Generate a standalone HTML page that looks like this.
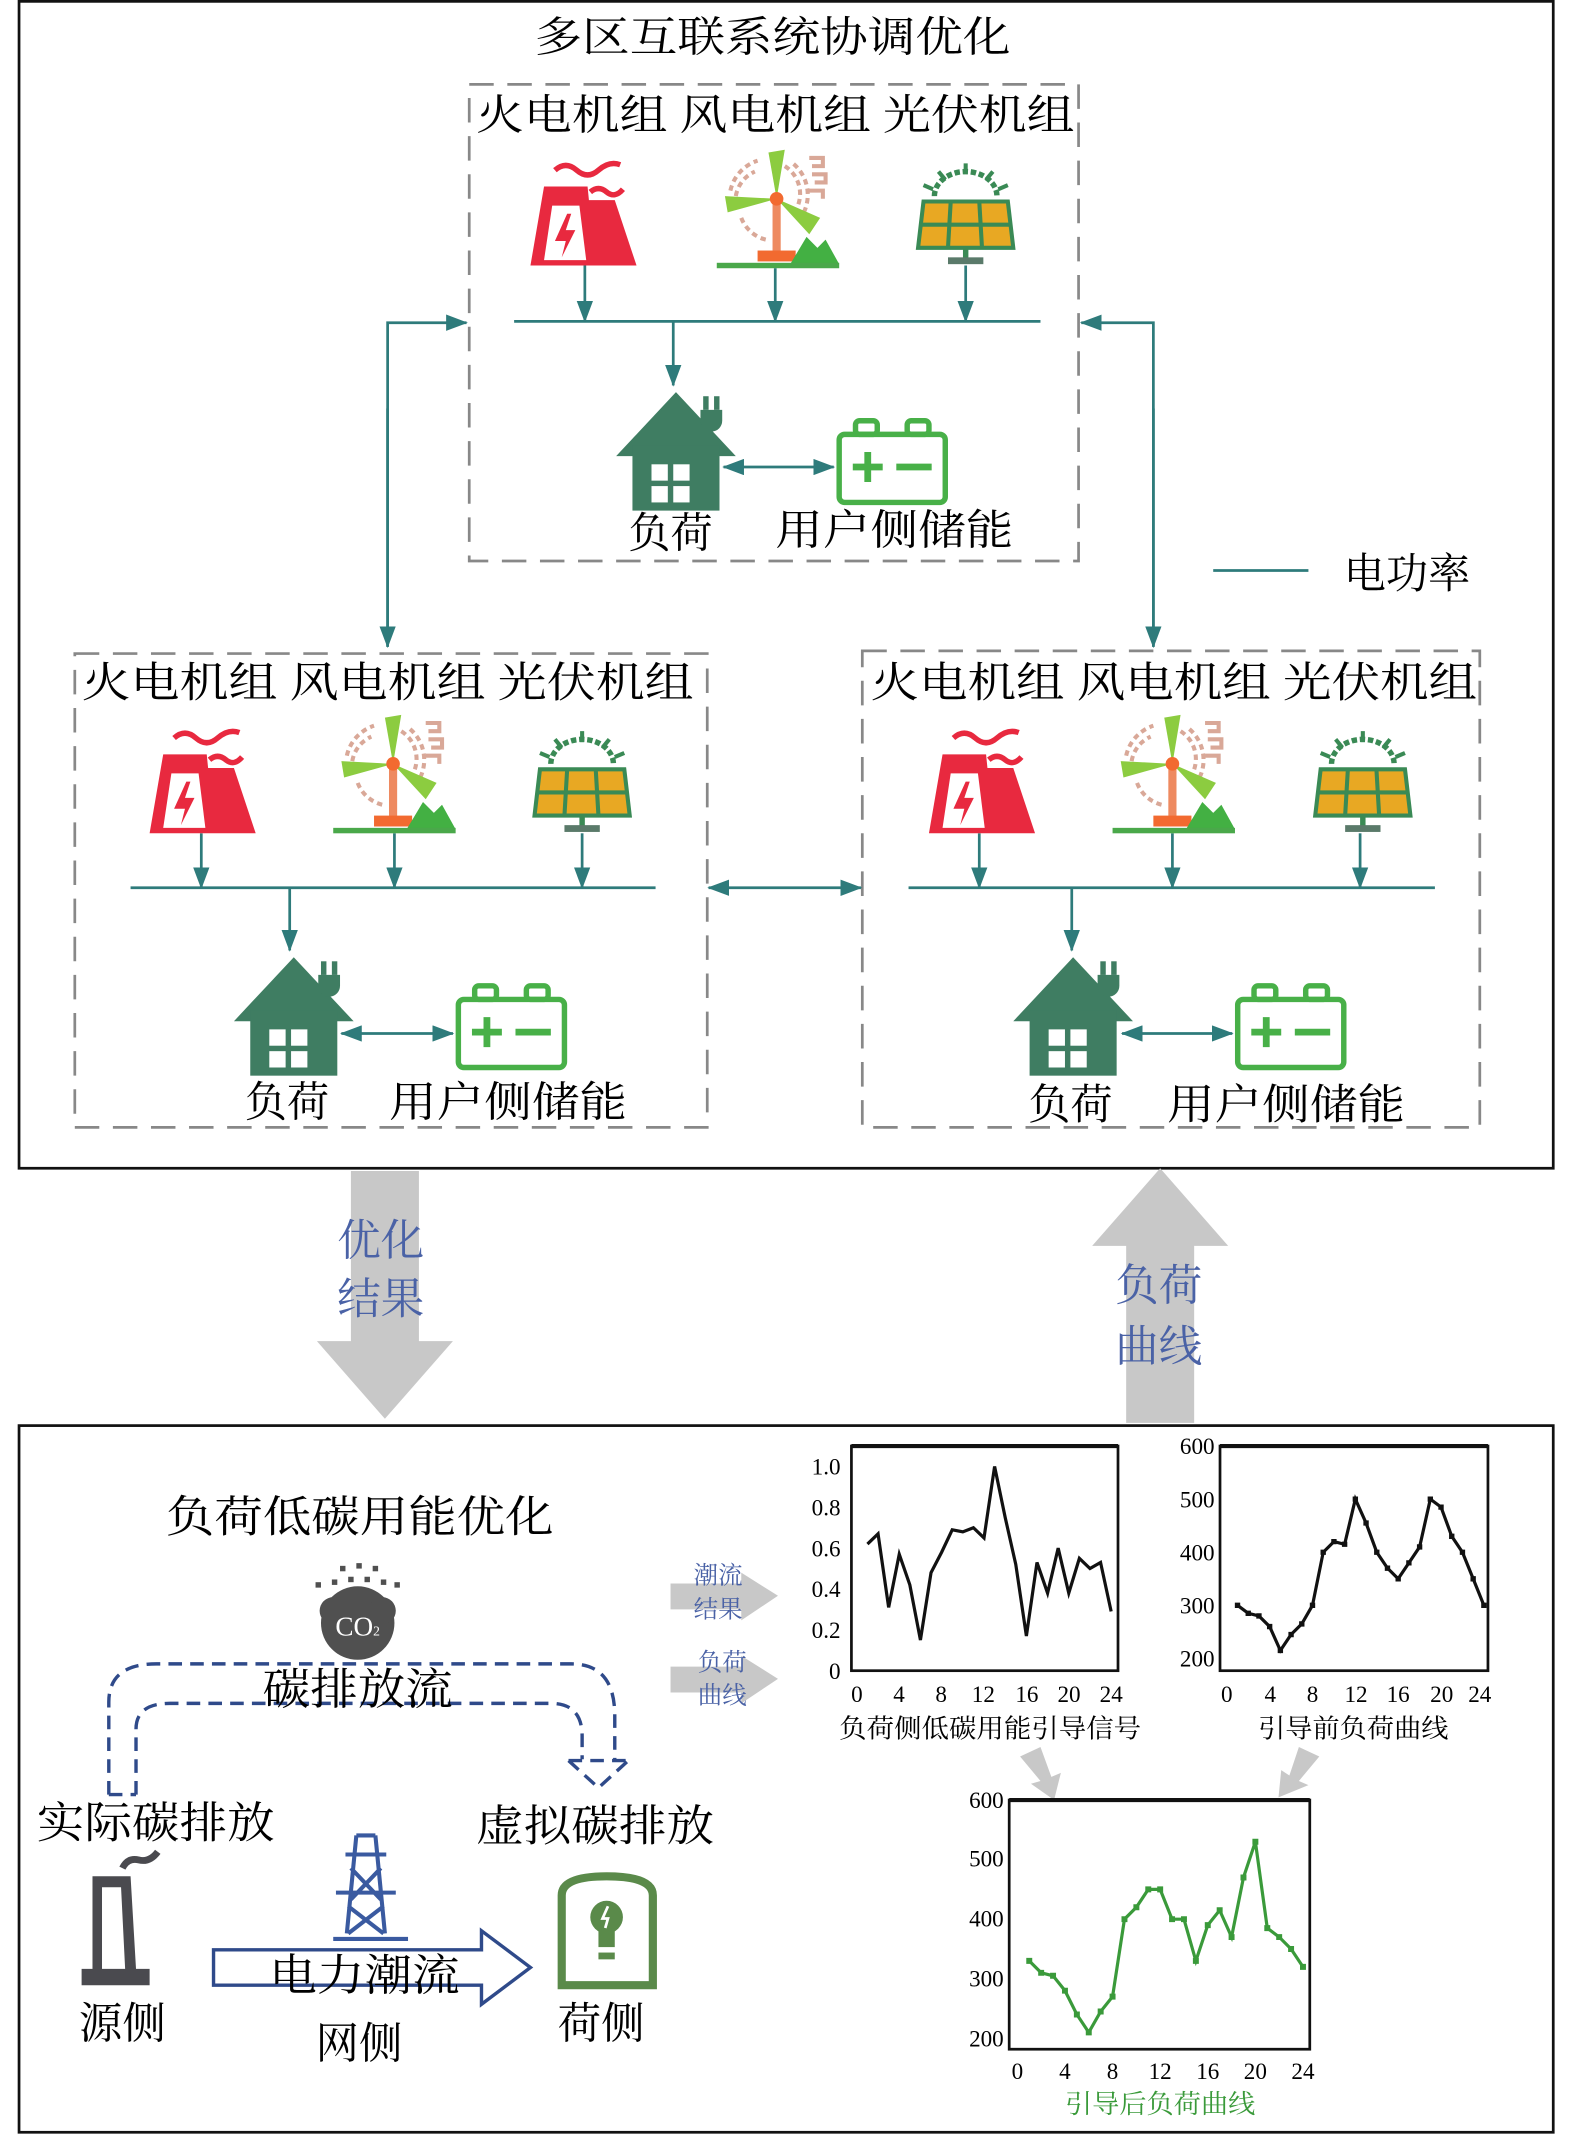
<!DOCTYPE html>
<html><head><meta charset="utf-8"><style>
html,body{margin:0;padding:0;background:#fff;}
svg{display:block;}
text{font-family:"Liberation Serif","Noto Serif CJK SC",serif;}
</style></head><body>
<svg width="1575" height="2135" viewBox="0 0 1158 1568" preserveAspectRatio="none" xmlns="http://www.w3.org/2000/svg">
<defs>
<marker id="ah" markerWidth="16" markerHeight="12" refX="15" refY="6" orient="auto" markerUnits="userSpaceOnUse"><path d="M0,0 L16,6 L0,12 Z" fill="#2e7b7b"/></marker>
<marker id="as" markerWidth="16" markerHeight="12" refX="1" refY="6" orient="auto" markerUnits="userSpaceOnUse"><path d="M16,0 L0,6 L16,12 Z" fill="#2e7b7b"/></marker>
<g id="fire">
<path d="M0,80 L10,22 L42,22 L43,32 L62,32 L78,80 Z" fill="#e8293f"/>
<path d="M10,76 L16,36 L36,36 L41,76 Z" fill="#fff"/>
<path d="M27,42 L18,62 L26,62 L23,74 L33,54 L26,54 L30,42 Z" fill="#e8293f"/>
<path d="M18,10 q8,-7 16,0 t16,0 t16,-4" stroke="#e8293f" stroke-width="4" fill="none"/>
<path d="M44,26 q6,-5 12,0 t12,-2" stroke="#e8293f" stroke-width="4" fill="none"/>
</g>
<g id="wind">
<path d="M10,30 a30,30 0 0 1 20,-22 M14,34 a24,24 0 0 1 14,-18 M18,50 a26,26 0 0 0 18,16 M60,40 a24,24 0 0 0 -10,-28 M64,46 a30,30 0 0 0 -8,-36" stroke="#d9a898" stroke-width="3" fill="none" stroke-dasharray="4,3"/>
<path d="M68,6 h10 v6 h-8 M70,18 h10 v6 h-8 M68,30 h10 v6" stroke="#d9a898" stroke-width="3" fill="none"/>
<rect x="41" y="36" width="6" height="42" fill="#ee8a60"/>
<rect x="30" y="74" width="28" height="8" fill="#f26a30"/>
<path d="M54,84 L66,64 L74,72 L80,66 L90,84 Z" fill="#43b043"/>
<rect x="0" y="83" width="90" height="4" fill="#4aa84a"/>
<path d="M44,36 L38,2 L50,0 Z" fill="#8ccc40"/>
<path d="M44,36 L8,46 L6,34 Z" fill="#8ccc40"/>
<path d="M44,36 L76,50 L68,62 Z" fill="#8ccc40"/>
<circle cx="44" cy="36" r="5" fill="#f26a30"/>
</g>
<g id="solar">
<path d="M12,24 a23,18 0 0 1 46,0" stroke="#3a8a55" stroke-width="4" fill="none" stroke-dasharray="4,2"/>
<path d="M35,0 v8 M15,6 l5,6 M55,6 l-5,6 M4,16 l7,3 M66,16 l-7,3" stroke="#3a8a55" stroke-width="3"/>
<path d="M4,28 L66,28 L70,62 L0,62 Z" fill="#e8a823" stroke="#3a8a55" stroke-width="3"/>
<path d="M24,28 L22,62 M45,28 L47,62 M2,45 L68,45" stroke="#3a8a55" stroke-width="3"/>
<rect x="33" y="62" width="4" height="8" fill="#3a8a55"/>
<rect x="22" y="69" width="26" height="5" fill="#5a7a6a"/>
</g>
<g id="house">
<path d="M0,52 L44,5 L88,52 Z" fill="#3f7d62"/>
<rect x="12" y="44" width="64" height="48" fill="#3f7d62"/>
<rect x="26" y="58" width="12" height="12" fill="#fff"/><rect x="42" y="58" width="12" height="12" fill="#fff"/>
<rect x="26" y="74" width="12" height="12" fill="#fff"/><rect x="42" y="74" width="12" height="12" fill="#fff"/>
<path d="M62,18 h16 v8 a8,8 0 0 1 -16,0 Z" fill="#3f7d62"/>
<rect x="64" y="8" width="4" height="10" fill="#3f7d62"/><rect x="72" y="8" width="4" height="10" fill="#3f7d62"/>
</g>
<g id="batt">
<rect x="2" y="14" width="78" height="50" rx="4" fill="#fff" stroke="#48b048" stroke-width="4"/>
<rect x="14" y="4" width="16" height="10" rx="3" fill="none" stroke="#48b048" stroke-width="4"/>
<rect x="52" y="4" width="16" height="10" rx="3" fill="none" stroke="#48b048" stroke-width="4"/>
<path d="M12,38 h22 M23,27 v22 M44,38 h26" stroke="#48b048" stroke-width="5"/>
</g>
</defs>

<rect x="14" y="1" width="1128" height="857" fill="none" stroke="#111" stroke-width="2"/>
<text x="568" y="38" font-size="31" text-anchor="middle" textLength="350" lengthAdjust="spacingAndGlyphs">多区互联系统协调优化</text>

<g fill="none" stroke="#888" stroke-width="2" stroke-dasharray="18,10">
<rect x="345" y="62" width="448" height="350"/>
<rect x="55" y="480" width="465" height="348"/>
<rect x="634" y="478" width="454" height="350"/>
</g>

<g font-size="31">
<text x="350" y="95" textLength="440" lengthAdjust="spacingAndGlyphs">火电机组 风电机组 光伏机组</text>
<text x="60" y="512" textLength="450" lengthAdjust="spacingAndGlyphs">火电机组  风电机组  光伏机组</text>
<text x="640" y="512" textLength="446" lengthAdjust="spacingAndGlyphs">火电机组 风电机组 光伏机组</text>
</g>

<use href="#fire" x="390" y="115"/><use href="#wind" x="527" y="110"/><use href="#solar" x="675" y="120"/>
<use href="#house" x="453" y="283"/><use href="#batt" x="615" y="305"/>
<g stroke="#2e7b7b" stroke-width="2" fill="none">
<line x1="378" y1="236" x2="765" y2="236"/>
<line x1="430" y1="195" x2="430" y2="236" marker-end="url(#ah)"/>
<line x1="570" y1="197" x2="570" y2="236" marker-end="url(#ah)"/>
<line x1="710" y1="195" x2="710" y2="236" marker-end="url(#ah)"/>
<line x1="495" y1="236" x2="495" y2="283" marker-end="url(#ah)"/>
<line x1="532" y1="343" x2="613" y2="343" marker-end="url(#ah)" marker-start="url(#as)"/>
<polyline points="285,475 285,237 343,237" marker-end="url(#ah)"/>
<line x1="285" y1="300" x2="285" y2="475" marker-end="url(#ah)"/>
<polyline points="848,475 848,237 795,237" marker-end="url(#ah)"/>
<line x1="848" y1="300" x2="848" y2="475" marker-end="url(#ah)"/>
<line x1="521" y1="652" x2="633" y2="652" marker-end="url(#ah)" marker-start="url(#as)"/>
<line x1="96" y1="652" x2="482" y2="652"/>
<line x1="148" y1="612" x2="148" y2="652" marker-end="url(#ah)"/>
<line x1="290" y1="612" x2="290" y2="652" marker-end="url(#ah)"/>
<line x1="428" y1="612" x2="428" y2="652" marker-end="url(#ah)"/>
<line x1="213" y1="652" x2="213" y2="698" marker-end="url(#ah)"/>
<line x1="251" y1="759" x2="333" y2="759" marker-end="url(#ah)" marker-start="url(#as)"/>
<line x1="668" y1="652" x2="1055" y2="652"/>
<line x1="720" y1="612" x2="720" y2="652" marker-end="url(#ah)"/>
<line x1="862" y1="612" x2="862" y2="652" marker-end="url(#ah)"/>
<line x1="1000" y1="612" x2="1000" y2="652" marker-end="url(#ah)"/>
<line x1="788" y1="652" x2="788" y2="698" marker-end="url(#ah)"/>
<line x1="825" y1="759" x2="906" y2="759" marker-end="url(#ah)" marker-start="url(#as)"/>
<line x1="892" y1="419" x2="962" y2="419"/>
</g>
<text x="988" y="432" font-size="31">电功率</text>

<use href="#fire" x="110" y="532"/><use href="#wind" x="245" y="525"/><use href="#solar" x="393" y="537"/>
<use href="#house" x="172" y="698"/><use href="#batt" x="335" y="720"/>
<use href="#fire" x="683" y="532"/><use href="#wind" x="818" y="525"/><use href="#solar" x="967" y="537"/>
<use href="#house" x="745" y="698"/><use href="#batt" x="908" y="720"/>

<g font-size="31">
<text x="462" y="402">负荷</text><text x="570" y="400" textLength="175" lengthAdjust="spacingAndGlyphs">用户侧储能</text>
<text x="180" y="820">负荷</text><text x="286" y="820" textLength="175" lengthAdjust="spacingAndGlyphs">用户侧储能</text>
<text x="756" y="822">负荷</text><text x="858" y="822" textLength="175" lengthAdjust="spacingAndGlyphs">用户侧储能</text>
</g>

<path d="M258,860 H308 V985 H333 L283,1042 L233,985 H258 Z" fill="#c8c8c8"/>
<path d="M853,858 L903,915 H878 V1045 H828 V915 H803 Z" fill="#c8c8c8"/>
<g font-size="32" fill="#4a62a6">
<text x="248" y="922">优化</text><text x="248" y="965">结果</text>
<text x="820" y="955">负荷</text><text x="820" y="1000">曲线</text>
</g>

<rect x="14" y="1047" width="1128" height="519" fill="none" stroke="#111" stroke-width="2"/>
<text x="122" y="1125" font-size="32" textLength="285" lengthAdjust="spacingAndGlyphs">负荷低碳用能优化</text>

<g fill="#505050">
<circle cx="263" cy="1192" r="27"/>
<circle cx="245" cy="1183" r="10"/><circle cx="281" cy="1183" r="10"/>
<rect x="232" y="1162" width="4" height="4"/><rect x="244" y="1160" width="4" height="4"/><rect x="256" y="1158" width="4" height="4"/><rect x="268" y="1158" width="4" height="4"/><rect x="280" y="1160" width="4" height="4"/><rect x="290" y="1162" width="4" height="4"/>
<rect x="250" y="1150" width="4" height="4"/><rect x="262" y="1148" width="4" height="4"/><rect x="274" y="1150" width="4" height="4"/>
</g>
<text x="263" y="1201" font-size="20" fill="#fff" text-anchor="middle" font-family="Liberation Sans">CO<tspan font-size="10">2</tspan></text>

<g fill="none" stroke="#2f4a8a" stroke-width="2.5" stroke-dasharray="10,6">
<path d="M80,1318 V1250 Q80,1222 115,1222 H420 Q452,1222 452,1260 V1292"/>
<path d="M100,1318 V1270 Q100,1251 125,1251 H405 Q428,1251 428,1275 V1292"/>
<path d="M80,1318 H100"/>
<path d="M418,1293 H460 M418,1293 L440,1313 L462,1293"/>
</g>
<text x="193" y="1252" font-size="32" textLength="140" lengthAdjust="spacingAndGlyphs">碳排放流</text>
<text x="27" y="1350" font-size="32" textLength="175" lengthAdjust="spacingAndGlyphs">实际碳排放</text>
<text x="350" y="1352" font-size="32" textLength="175" lengthAdjust="spacingAndGlyphs">虚拟碳排放</text>

<path d="M68,1378 H96 L100,1446 H110 V1458 H60 V1446 H68 Z M75,1386 V1446 H92 L89,1386 Z" fill="#4a4a4f" fill-rule="evenodd"/>
<path d="M90,1372 q4,-8 12,-6 t14,-6" stroke="#4a4a4f" stroke-width="5" fill="none"/>
<g stroke="#3a5aa0" stroke-width="3" fill="none">
<path d="M262,1348 L255,1420 M276,1348 L283,1420 M262,1348 H276 M254,1362 H284 M247,1390 H291 M258,1372 L280,1395 M280,1372 L258,1395 M256,1400 L282,1420 M282,1400 L256,1420"/>
<path d="M245,1424 H300"/>
</g>
<path d="M157,1432 H354 V1418 L390,1445 L354,1472 V1458 H157 Z" fill="none" stroke="#2f4a8a" stroke-width="2.5"/>
<text x="198" y="1462" font-size="32" textLength="140" lengthAdjust="spacingAndGlyphs">电力潮流</text>
<path d="M413,1392 Q413,1378 446,1378 Q480,1378 480,1392 V1458 H413 Z" fill="none" stroke="#5a8a4a" stroke-width="6"/>
<circle cx="446" cy="1408" r="12" fill="#5a8a4a"/>
<rect x="440" y="1418" width="12" height="12" fill="#5a8a4a"/>
<rect x="440" y="1434" width="12" height="5" fill="#5a8a4a"/>
<path d="M447,1400 l-4,9 h4 l-2,7" stroke="#fff" stroke-width="2" fill="none"/>
<g font-size="32">
<text x="58" y="1497">源侧</text><text x="232" y="1512">网侧</text><text x="410" y="1497">荷侧</text>
</g>

<path d="M493,1163 H545 V1155 L572,1172 L545,1190 V1182 H493 Z" fill="#c8c8c8"/>
<path d="M493,1224 H545 V1216 L572,1233 L545,1251 V1243 H493 Z" fill="#c8c8c8"/>
<g font-size="18" fill="#4a62a6">
<text x="510" y="1163">潮流</text><text x="510" y="1188">结果</text>
<text x="513" y="1227">负荷</text><text x="513" y="1251">曲线</text>
</g>

<rect x="626" y="1062" width="196" height="165" fill="none" stroke="#111" stroke-width="2"/>
<line x1="626" y1="1062" x2="822" y2="1062" stroke="#111" stroke-width="3"/>
<g font-size="17" text-anchor="end">
<text x="618" y="1083">1.0</text><text x="618" y="1113">0.8</text><text x="618" y="1143">0.6</text><text x="618" y="1173">0.4</text><text x="618" y="1203">0.2</text><text x="618" y="1233">0</text>
</g>
<g font-size="17" text-anchor="middle">
<text x="630" y="1250">0</text><text x="661" y="1250">4</text><text x="692" y="1250">8</text><text x="723" y="1250">12</text><text x="755" y="1250">16</text><text x="786" y="1250">20</text><text x="817" y="1250">24</text>
</g>
<g transform="translate(630,1227) scale(7.79,-150)">
<polyline vector-effect="non-scaling-stroke" fill="none" stroke="#111" stroke-width="3.2" points="1,0.62 2,0.67 3,0.31 4,0.57 5,0.42 6,0.15 7,0.48 8,0.58 9,0.69 10,0.68 11,0.70 12,0.65 13,1.0 14,0.75 15,0.52 16,0.17 17,0.53 18,0.38 19,0.60 20,0.38 21,0.55 22,0.50 23,0.53 24,0.29"/>
</g>
<text x="728" y="1276" font-size="19" text-anchor="middle" textLength="222" lengthAdjust="spacingAndGlyphs">负荷侧低碳用能引导信号</text>

<rect x="897" y="1062" width="197" height="165" fill="none" stroke="#111" stroke-width="2"/>
<line x1="897" y1="1062" x2="1094" y2="1062" stroke="#111" stroke-width="3"/>
<g font-size="17" text-anchor="end">
<text x="893" y="1068">600</text><text x="893" y="1107">500</text><text x="893" y="1146">400</text><text x="893" y="1185">300</text><text x="893" y="1224">200</text>
</g>
<g font-size="17" text-anchor="middle">
<text x="902" y="1250">0</text><text x="934" y="1250">4</text><text x="965" y="1250">8</text><text x="997" y="1250">12</text><text x="1028" y="1250">16</text><text x="1060" y="1250">20</text><text x="1088" y="1250">24</text>
</g>
<g transform="translate(902,1218) scale(7.875,-0.39) translate(0,-200)" fill="#111">
<polyline vector-effect="non-scaling-stroke" fill="none" stroke="#111" stroke-width="3.2" points="1,300 2,285 3,280 4,260 5,215 6,245 7,265 8,300 9,400 10,420 11,415 12,500 13,455 14,400 15,370 16,350 17,380 18,410 19,500 20,485 21,430 22,400 23,350 24,300"/>
<path d="M0.75,295h0.5v10h-0.5z M1.75,280h0.5v10h-0.5z M2.75,275h0.5v10h-0.5z M3.75,255h0.5v10h-0.5z M4.75,210h0.5v10h-0.5z M5.75,240h0.5v10h-0.5z M6.75,260h0.5v10h-0.5z M7.75,295h0.5v10h-0.5z M8.75,395h0.5v10h-0.5z M9.75,415h0.5v10h-0.5z M10.75,410h0.5v10h-0.5z M11.75,495h0.5v10h-0.5z M12.75,450h0.5v10h-0.5z M13.75,395h0.5v10h-0.5z M14.75,365h0.5v10h-0.5z M15.75,345h0.5v10h-0.5z M16.75,375h0.5v10h-0.5z M17.75,405h0.5v10h-0.5z M18.75,495h0.5v10h-0.5z M19.75,480h0.5v10h-0.5z M20.75,425h0.5v10h-0.5z M21.75,395h0.5v10h-0.5z M22.75,345h0.5v10h-0.5z M23.75,295h0.5v10h-0.5z"/>
</g>
<text x="995" y="1276" font-size="19" text-anchor="middle" textLength="140" lengthAdjust="spacingAndGlyphs">引导前负荷曲线</text>

<path d="M750,1290 L765,1283 L773,1305 L780,1302 L775,1322 L758,1310 L765,1308 Z" fill="#c8c8c8"/>
<path d="M955,1283 L970,1290 L955,1308 L962,1311 L940,1320 L942,1300 L948,1304 Z" fill="#c8c8c8"/>

<rect x="742" y="1322" width="221" height="183" fill="none" stroke="#111" stroke-width="2"/>
<line x1="742" y1="1322" x2="963" y2="1322" stroke="#111" stroke-width="3"/>
<g font-size="17" text-anchor="end">
<text x="738" y="1328">600</text><text x="738" y="1371">500</text><text x="738" y="1415">400</text><text x="738" y="1459">300</text><text x="738" y="1503">200</text>
</g>
<g font-size="17" text-anchor="middle">
<text x="748" y="1527">0</text><text x="783" y="1527">4</text><text x="818" y="1527">8</text><text x="853" y="1527">12</text><text x="888" y="1527">16</text><text x="923" y="1527">20</text><text x="958" y="1527">24</text>
</g>
<g transform="translate(748,1497) scale(8.75,-0.4375) translate(0,-200)" fill="#3a9a3a">
<polyline vector-effect="non-scaling-stroke" fill="none" stroke="#3a9a3a" stroke-width="3.2" points="1,330 2,310 3,305 4,280 5,240 6,210 7,245 8,270 9,400 10,420 11,450 12,450 13,400 14,400 15,330 16,390 17,415 18,370 19,470 20,530 21,385 22,370 23,350 24,320"/>
<path d="M0.75,325h0.5v10h-0.5z M1.75,305h0.5v10h-0.5z M2.75,300h0.5v10h-0.5z M3.75,275h0.5v10h-0.5z M4.75,235h0.5v10h-0.5z M5.75,205h0.5v10h-0.5z M6.75,240h0.5v10h-0.5z M7.75,265h0.5v10h-0.5z M8.75,395h0.5v10h-0.5z M9.75,415h0.5v10h-0.5z M10.75,445h0.5v10h-0.5z M11.75,445h0.5v10h-0.5z M12.75,395h0.5v10h-0.5z M13.75,395h0.5v10h-0.5z M14.75,325h0.5v10h-0.5z M15.75,385h0.5v10h-0.5z M16.75,410h0.5v10h-0.5z M17.75,365h0.5v10h-0.5z M18.75,465h0.5v10h-0.5z M19.75,525h0.5v10h-0.5z M20.75,380h0.5v10h-0.5z M21.75,365h0.5v10h-0.5z M22.75,345h0.5v10h-0.5z M23.75,315h0.5v10h-0.5z"/>
</g>
<text x="853" y="1552" font-size="19" fill="#3a9a3a" text-anchor="middle" textLength="140" lengthAdjust="spacingAndGlyphs">引导后负荷曲线</text>
</svg>
</body></html>
